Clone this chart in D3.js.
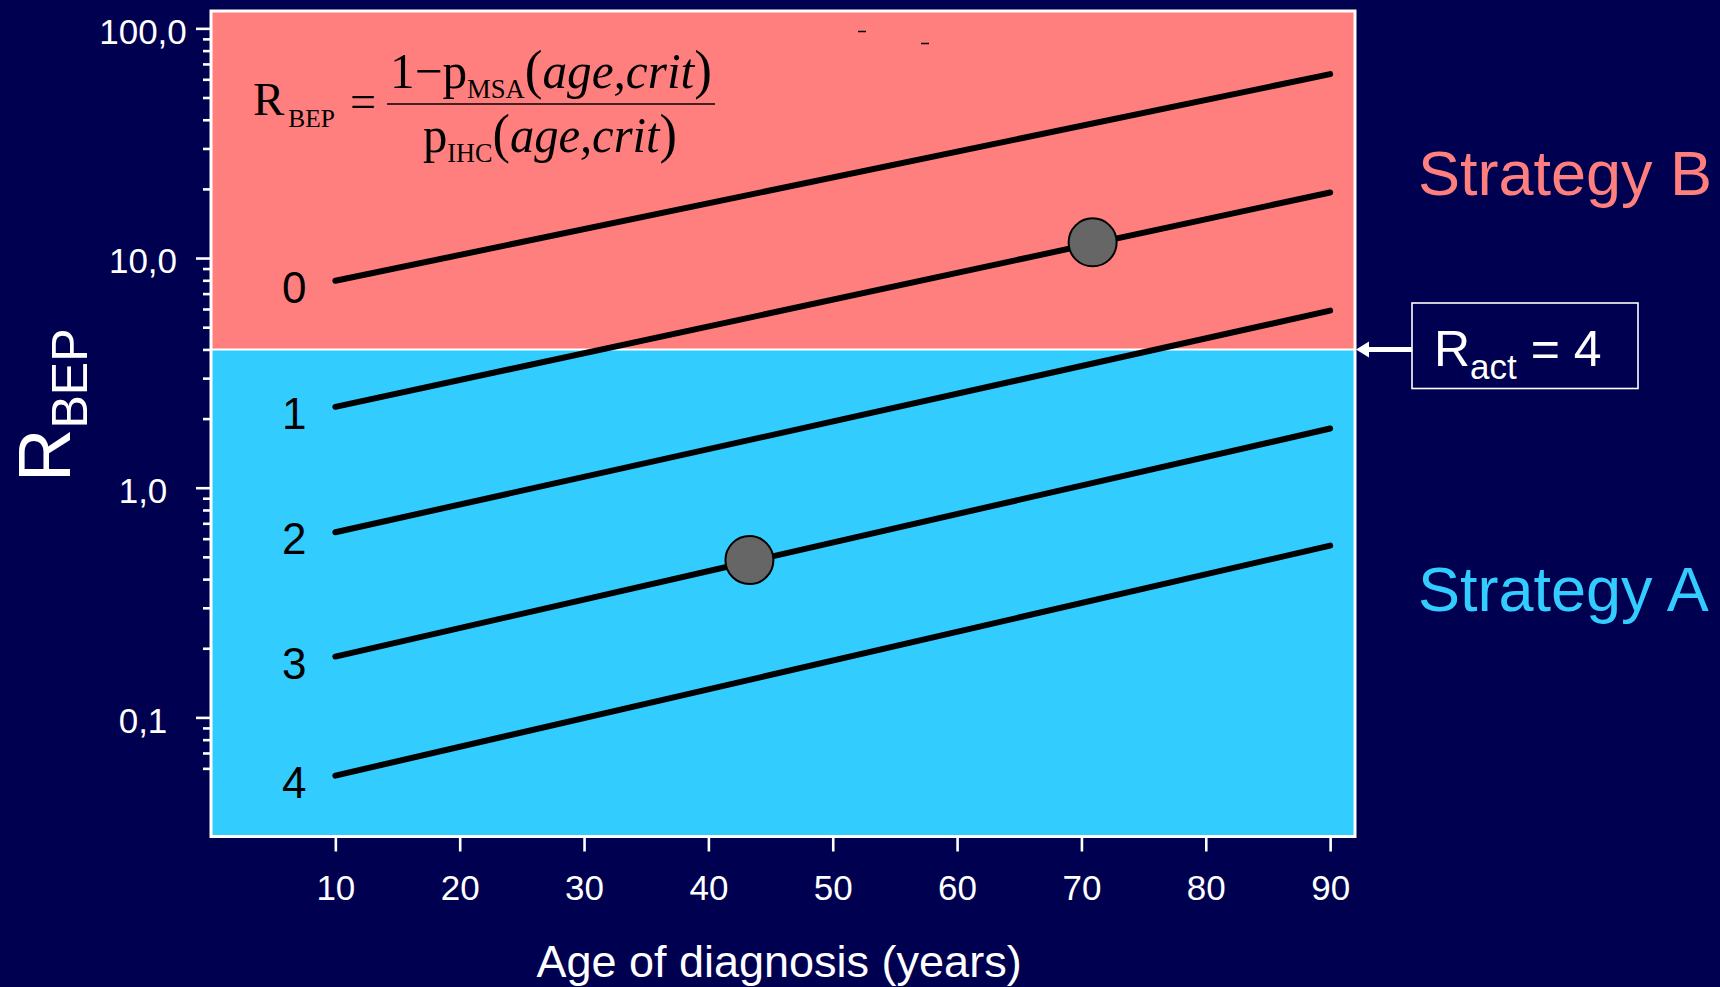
<!DOCTYPE html>
<html><head><meta charset="utf-8">
<script src="https://cdn.jsdelivr.net/npm/d3@7"></script>
<style>html,body{margin:0;padding:0;background:#000050;overflow:hidden;} svg{display:block;}</style>
</head><body><svg id="chart" width="1720" height="987"></svg>
<script>
// ---- data ----
const curveLabels = ["0", "1", "2", "3", "4"];
const curveAges = [10, 90];
const curveStart = [7.96, 2.25, 0.640, 0.184, 0.0558];   // R_BEP at age 10
const curveEnd = [63.2, 19.3, 5.90, 1.81, 0.560];        // R_BEP at age 90
const pointAges = [70.9, 43.3];
const pointValues = [11.7, 0.484];
const rAct = 4;
const xTicks = [10, 20, 30, 40, 50, 60, 70, 80, 90];
const yTicks = [0.1, 1, 10, 100];
const yTickLabels = ["0,1", "1,0", "10,0", "100,0"];
const yMinorMult = [2, 3, 4, 5, 6, 7, 8, 9];
const xDomain = [0, 92];
const yDomain = [0.0303, 119];

// ---- layout ----
const W = 1720, H = 987;
const L = 211, R = 1355, T = 11, B = 836.5;
const pink = "#ff7f7f", blue = "#33ccff", bg = "#000050";
const sans = "'Liberation Sans', Arial, sans-serif";
const serif = "'Liberation Serif', 'Times New Roman', serif";

const svg = d3.select("#chart");
svg.append("rect").attr("width", W).attr("height", H).attr("fill", bg);

const x = d3.scaleLinear().domain(xDomain).range([L, R]);
const y = d3.scaleLog().domain(yDomain).range([B, T]);

// regions
svg.append("rect").attr("x", L).attr("y", T).attr("width", R - L)
  .attr("height", y(rAct) - T).attr("fill", pink);
svg.append("rect").attr("x", L).attr("y", y(rAct)).attr("width", R - L)
  .attr("height", B - y(rAct)).attr("fill", blue);
svg.append("line").attr("x1", L).attr("x2", R).attr("y1", y(rAct)).attr("y2", y(rAct))
  .attr("stroke", "#fff").attr("stroke-width", 2);

// frame
svg.append("rect").attr("x", L).attr("y", T).attr("width", R - L).attr("height", B - T)
  .attr("fill", "none").attr("stroke", "#fff").attr("stroke-width", 3);

// axes
const yMinor = [0.01, 0.1, 1, 10].flatMap(d => yMinorMult.map(m => +(m * d).toPrecision(3)))
  .filter(v => v >= 0.0599 && v < 100);

const gyMinor = svg.append("g").attr("transform", `translate(${L},0)`)
  .call(d3.axisLeft(y).tickValues(yMinor).tickSize(8).tickFormat(""));
const gy = svg.append("g").attr("transform", `translate(${L},0)`)
  .call(d3.axisLeft(y).tickValues(yTicks).tickSize(15).tickPadding(53)
    .tickFormat((d, i) => yTickLabels[i]));
[gyMinor, gy].forEach(g => {
  g.select(".domain").remove();
  g.selectAll(".tick line").attr("stroke", "#fff").attr("stroke-width", 2.6);
});
gy.selectAll(".tick text").attr("fill", "#fff").attr("text-anchor", "middle")
  .attr("font-family", sans).attr("font-size", 35).attr("dy", "0.42em");

const gx = svg.append("g").attr("transform", `translate(0,${B})`)
  .call(d3.axisBottom(x).tickValues(xTicks).tickSize(15).tickPadding(24).tickFormat(d3.format("d")));
gx.select(".domain").remove();
gx.selectAll(".tick line").attr("stroke", "#fff").attr("stroke-width", 2.6);
gx.selectAll(".tick text").attr("fill", "#fff").attr("font-family", sans).attr("font-size", 35);

// curves
const line = d3.line().x(d => x(d[0])).y(d => y(d[1]));
curveLabels.forEach((lab, i) => {
  const pts = [[curveAges[0], curveStart[i]], [curveAges[1], curveEnd[i]]];
  svg.append("path").attr("d", line(pts)).attr("fill", "none")
    .attr("stroke", "#000").attr("stroke-width", 6).attr("stroke-linecap", "round");
  svg.append("text").attr("x", x(curveAges[0]) - 41).attr("y", y(curveStart[i]) + 22)
    .attr("text-anchor", "middle").attr("font-family", sans).attr("font-size", 44)
    .attr("fill", "#000").text(lab);
});

// points
pointAges.forEach((a, i) => {
  svg.append("circle").attr("cx", x(a)).attr("cy", y(pointValues[i])).attr("r", 24)
    .attr("fill", "#666666").attr("stroke", "#000").attr("stroke-width", 2);
});

// formula
function fit(sel, x0, width) {
  const bb = sel.node().getBBox();
  const s = width / bb.width;
  sel.attr("transform", `translate(${x0},0) scale(${s},1) translate(${-bb.x},0)`);
}
const rb = svg.append("text").attr("x", 253).attr("y", 115).attr("font-family", serif)
  .attr("font-size", 46).attr("fill", "#000");
rb.append("tspan").text("R");
rb.append("tspan").attr("font-size", 25).attr("dx", 4).attr("dy", 12).text("BEP");
fit(rb, 253, 82);
svg.append("text").attr("x", 350).attr("y", 117).attr("font-family", serif)
  .attr("font-size", 46).attr("fill", "#000").text("=");
svg.append("line").attr("x1", 387).attr("x2", 715).attr("y1", 104).attr("y2", 104)
  .attr("stroke", "#000").attr("stroke-width", 1.6);
function fracPart(yb, main, sub, x0, width) {
  const t = svg.append("text").attr("x", 0).attr("y", yb).attr("font-family", serif)
    .attr("font-size", 50).attr("fill", "#000");
  t.append("tspan").text(main);
  t.append("tspan").attr("font-size", 27).attr("dy", 10).text(sub);
  t.append("tspan").attr("dy", -10).attr("font-size", 54).text("(");
  t.append("tspan").attr("font-style", "italic").text("age,crit");
  t.append("tspan").attr("font-size", 54).text(")");
  fit(t, x0, width);
}
fracPart(88, "1\u2212p", "MSA", 390, 322);
fracPart(152, "p", "IHC", 423, 254);
// small marks near top
[[858, 866, 31.5], [921, 929, 43.5]].forEach(m => {
  svg.append("line").attr("x1", m[0]).attr("x2", m[1]).attr("y1", m[2]).attr("y2", m[2])
    .attr("stroke", "#000").attr("stroke-width", 1.5);
});

// axis titles
svg.append("text").attr("x", 779).attr("y", 977).attr("text-anchor", "middle")
  .attr("font-family", sans).attr("font-size", 45).attr("fill", "#fff")
  .text("Age of diagnosis (years)");
const yt = svg.append("text").attr("transform", "translate(70,482) rotate(-90)")
  .attr("font-family", sans).attr("font-size", 74).attr("fill", "#fff");
yt.append("tspan").text("R");
yt.append("tspan").attr("font-size", 50).attr("dy", 17).text("BEP");

// strategy labels
svg.append("text").attr("x", 1418).attr("y", 195).attr("font-family", sans)
  .attr("font-size", 63).attr("fill", pink).text("Strategy B");
svg.append("text").attr("x", 1418).attr("y", 611).attr("font-family", sans)
  .attr("font-size", 63).attr("fill", blue).text("Strategy A");

// R_act box + arrow
svg.append("rect").attr("x", 1412).attr("y", 303).attr("width", 226).attr("height", 85.5)
  .attr("fill", "none").attr("stroke", "#fff").attr("stroke-width", 1.6);
const ya = y(rAct);
svg.append("line").attr("x1", 1412).attr("x2", 1366).attr("y1", ya).attr("y2", ya)
  .attr("stroke", "#fff").attr("stroke-width", 5);
svg.append("path").attr("d", `M${R + 1},${ya} L${R + 14},${ya - 8} L${R + 14},${ya + 8} Z`)
  .attr("fill", "#fff");
const ra = svg.append("text").attr("x", 1434).attr("y", 366).attr("font-family", sans)
  .attr("font-size", 50).attr("fill", "#fff");
ra.append("tspan").text("R");
ra.append("tspan").attr("font-size", 35).attr("dy", 13).text("act");
ra.append("tspan").attr("dy", -13).text(" = 4");
</script>
</body></html>
